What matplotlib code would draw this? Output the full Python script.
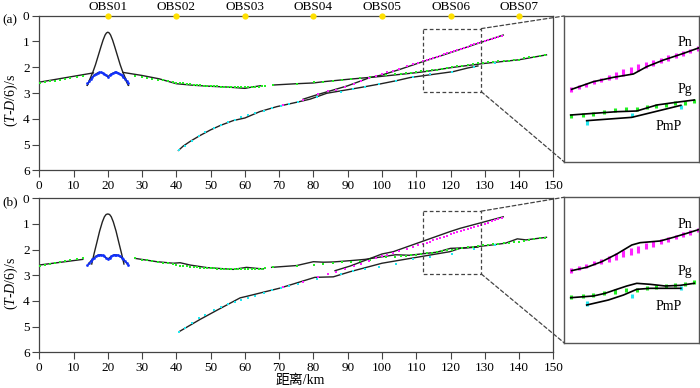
import matplotlib
matplotlib.use("Agg")
import matplotlib.pyplot as plt
from matplotlib.patches import Rectangle, ConnectionPatch

plt.rcParams['font.family'] = ['Liberation Serif', 'Noto Sans CJK SC']
plt.rcParams['mathtext.fontset'] = 'custom'
plt.rcParams['mathtext.rm'] = 'Liberation Serif'
plt.rcParams['mathtext.it'] = 'Liberation Serif:italic'
FS = 9.5

# ---------------- data ----------------
obs_names = ['OBS01', 'OBS02', 'OBS03', 'OBS04', 'OBS05', 'OBS06', 'OBS07']
obs_pos = [20, 40, 60, 80, 100, 120, 140]

# observed Pg (green)
pg_obs_x = [0.2, 1.7, 3.1, 4.6, 6.05, 7.5, 9.0, 10.9, 12.7,
            28, 30, 31.5, 33, 34.5, 36, 37.5, 39, 40, 41, 42, 43, 44, 45, 46, 47, 48, 49, 50,
            51, 52, 53, 54, 55, 56, 57, 58, 59, 60, 61, 62, 63, 64, 65, 66,
            68.3, 75.1, 80.2, 82.9, 85.6, 88.2, 90.9, 93.6, 96.5, 98.4, 101.2, 103.8, 105.7,
            107, 108.5, 110, 111.5, 113, 114.5, 116, 117.5, 119, 120.5, 122, 123.5, 125, 126.5,
            128, 129.5, 131, 132.5, 134, 135.5, 137, 138.5, 140, 141.5, 143, 144.5, 146, 147.5]
pg_obs_t = [2.62, 2.59, 2.55, 2.52, 2.48, 2.45, 2.41, 2.37, 2.33,
            2.34, 2.39, 2.42, 2.45, 2.48, 2.51, 2.54, 2.57, 2.6, 2.62, 2.63, 2.65, 2.66, 2.68, 2.69,
            2.7, 2.71, 2.72, 2.73, 2.73, 2.74, 2.75, 2.75, 2.76, 2.76, 2.77, 2.77, 2.77, 2.77, 2.77,
            2.76, 2.76, 2.75, 2.74, 2.72,
            2.69, 2.65, 2.58, 2.56, 2.52, 2.49, 2.47, 2.43, 2.39, 2.34, 2.3, 2.27, 2.26,
            2.24, 2.21, 2.19, 2.16, 2.14, 2.12, 2.09, 2.06, 2.03, 2.0, 1.97, 1.94, 1.91, 1.88,
            1.85, 1.82, 1.8, 1.78, 1.77, 1.75, 1.74, 1.72, 1.7, 1.66, 1.62, 1.59, 1.56, 1.53]

# observed near-offset water arrivals (blue)
wa_obs_x = [14, 14.5, 15, 15.5, 16, 16.5, 17, 17.5, 18, 18.5, 19, 19.5, 20, 20.5, 21, 21.5,
            22, 22.5, 23, 23.5, 24, 24.5, 25, 25.5, 26]
wa_obs_t = [2.6, 2.52, 2.44, 2.37, 2.31, 2.26, 2.22, 2.2, 2.2, 2.22, 2.26, 2.32, 2.37, 2.32,
            2.26, 2.22, 2.2, 2.2, 2.22, 2.26, 2.31, 2.37, 2.44, 2.52, 2.6]

# observed Pn (magenta)
pn_obs_x = [71.2, 77, 81.4, 84.3, 86.7, 89.2, 91.7, 94, 96.3, 98.4, 100, 101.5, 103.3, 105,
            107.2, 109, 110.5, 112, 113, 114, 115, 116, 117, 118, 119, 120, 121, 122, 123, 124,
            125, 126, 127, 128, 129, 130, 131, 132, 133, 134, 135]
pn_obs_t = [3.46, 3.27, 3.05, 2.94, 2.87, 2.75, 2.65, 2.55, 2.43, 2.33, 2.26, 2.2, 2.13, 2.06,
            1.96, 1.89, 1.83, 1.77, 1.73, 1.69, 1.64, 1.6, 1.55, 1.5, 1.46, 1.41, 1.37, 1.32,
            1.28, 1.24, 1.2, 1.15, 1.11, 1.07, 1.03, 0.99, 0.95, 0.9, 0.86, 0.82, 0.78]

# observed PmP (cyan)
pmp_obs_x = [40.8, 42.5, 44.5, 46.5, 48.5, 51, 53, 55, 57, 59, 61, 63, 65.5, 68, 70.5, 73,
             75.5, 81, 88, 91.5, 95, 99, 104, 109, 114, 120.5, 127, 133]
pmp_obs_t = [5.22, 5.04, 4.86, 4.68, 4.53, 4.37, 4.25, 4.13, 4.03, 3.95, 3.87, 3.79, 3.68,
             3.58, 3.5, 3.42, 3.35, 3.15, 2.95, 2.85, 2.75, 2.66, 2.55, 2.38, 2.28, 2.18, 1.98,
             1.82]

# ---- calculated travel times, model (a) ----
a_pg1_x = [0, 15.8]
a_pg1_t = [2.58, 2.22]
a_bell_x = [14, 14.8, 15.6, 16.4, 17.2, 18, 18.6, 19.2, 19.6, 20, 20.4, 20.8, 21.4, 22,
            22.8, 23.6, 24.4, 25.2, 26]
a_bell_t = [2.7, 2.45, 2.2, 1.9, 1.55, 1.2, 0.95, 0.75, 0.67, 0.64, 0.67, 0.75, 0.95, 1.2,
            1.55, 1.9, 2.2, 2.45, 2.7]
a_wa_x = [14, 15, 16, 17, 18, 19, 20, 21, 22, 23, 24, 25, 26]
a_wa_t = [2.7, 2.45, 2.31, 2.22, 2.2, 2.26, 2.37, 2.26, 2.2, 2.22, 2.31, 2.45, 2.7]
a_pg2_x = [24.4, 30, 35, 40, 45, 50, 55, 60, 62, 64.5]
a_pg2_t = [2.2, 2.32, 2.45, 2.64, 2.7, 2.74, 2.77, 2.82, 2.77, 2.72]
a_pg3_x = [68.3, 75, 80, 83, 90, 99.4, 108, 112, 121, 130, 140, 148]
a_pg3_t = [2.69, 2.64, 2.61, 2.56, 2.47, 2.36, 2.24, 2.18, 2.0, 1.85, 1.71, 1.52]
a_pn_x = [77, 81, 90, 96.5, 100, 105.3, 112, 120.3, 129, 135.4]
a_pn_t = [3.24, 3.07, 2.72, 2.4, 2.3, 2.08, 1.78, 1.42, 1.03, 0.75]
a_pmp_x = [40.6, 42, 44, 46.9, 50, 53, 56.6, 60, 64.4, 69.3, 75.1, 79.0, 83.9, 93.6, 99.4,
           104.3, 108.2, 120.8, 125, 128]
a_pmp_t = [5.23, 5.06, 4.88, 4.65, 4.43, 4.25, 4.07, 3.97, 3.72, 3.53, 3.36, 3.24, 3.01, 2.79,
           2.65, 2.52, 2.4, 2.17, 2.03, 1.95]

# ---- calculated travel times, model (b) ----
b_pg1_x = [0, 12.7]
b_pg1_t = [2.6, 2.38]
b_bell_x = [15.3, 16, 16.8, 17.6, 18.4, 19, 19.5, 20, 20.5, 21, 21.6, 22.4, 23.2, 24, 24.7]
b_bell_t = [2.56, 2.15, 1.72, 1.28, 0.92, 0.72, 0.63, 0.61, 0.63, 0.72, 0.92, 1.28, 1.72,
            2.15, 2.56]
b_wa_x = [14.3, 15, 16, 17, 18, 19, 20, 21, 22, 23, 24, 25, 25.7]
b_wa_t = [2.56, 2.45, 2.31, 2.22, 2.2, 2.26, 2.37, 2.26, 2.2, 2.22, 2.31, 2.45, 2.56]
b_pg2_x = [27.9, 34.3, 39.1, 41.1, 44, 48.9, 56.6, 60.5, 63.4, 65.4]
b_pg2_t = [2.34, 2.47, 2.53, 2.51, 2.6, 2.7, 2.77, 2.69, 2.73, 2.75]
b_pg3_x = [67.8, 75.1, 80, 82.9, 85.8, 90.7, 95, 100, 104, 108, 112, 116, 120, 124, 128, 132,
           136, 139.5, 142, 148]
b_pg3_t = [2.69, 2.62, 2.47, 2.49, 2.48, 2.43, 2.38, 2.28, 2.2, 2.22, 2.16, 2.1, 1.95, 1.93,
           1.88, 1.82, 1.75, 1.58, 1.62, 1.52]
b_pn_x = [86.3, 90.7, 100, 103.3, 119.8, 122.8, 135.4]
b_pn_t = [2.82, 2.64, 2.17, 2.08, 1.3, 1.17, 0.72]
b_pmp_x = [41, 46.9, 52, 58.6, 60.5, 70.2, 80.4, 85.8, 90.7, 100, 119.8, 122.8, 128]
b_pmp_t = [5.18, 4.72, 4.35, 3.88, 3.82, 3.5, 3.08, 3.06, 2.86, 2.53, 2.08, 1.95, 1.9]

# ---- enlarged windows (insets) ----
in_pn_obs_x = [112, 113, 114, 115, 116, 117, 118, 119, 120, 121, 122, 123, 124, 125, 126,
               127, 128, 129]
in_pn_obs_t = [1.76, 1.72, 1.68, 1.63, 1.6, 1.56, 1.52, 1.47, 1.43, 1.39, 1.34, 1.3, 1.26,
               1.22, 1.18, 1.14, 1.1, 1.06]
in_pn_obs_e = [0.04, 0.035, 0.035, 0.04, 0.04, 0.045, 0.06, 0.06, 0.06, 0.06, 0.055, 0.05,
               0.045, 0.045, 0.04, 0.04, 0.04, 0.04]
in_pg_obs_x = [111.9, 113.5, 114.95, 116.4, 117.9, 119.3, 120.8, 122.1, 123.4, 124.7, 125.9,
               127.3, 128.5]
in_pg_obs_t = [2.21, 2.2, 2.18, 2.15, 2.12, 2.1, 2.09, 2.06, 2.04, 2.03, 2.0, 1.99, 1.96]
in_pmp_obs_x = [114.05, 120.1, 126.7]
in_pmp_obs_t = [2.325, 2.2, 2.06]

ia_pn_x = [112.03, 114.95, 117.65, 120.34, 122.14, 124.39, 127.08, 129.5]
ia_pn_t = [1.758, 1.627, 1.552, 1.495, 1.369, 1.255, 1.141, 1.03]
ia_pg_x = [111.9, 114.95, 118.1, 120.79, 123.49, 125.73, 128.52]
ia_pg_t = [2.199, 2.17, 2.142, 2.13, 2.027, 1.987, 1.941]
ia_pmp_x = [114.05, 120.12, 126.72]
ia_pmp_t = [2.296, 2.239, 2.033]

ib_pn_x = [112.03, 114.05, 116.08, 118.1, 120.12, 121.24, 123.94, 125.73, 127.53, 129.5]
ib_pn_t = [1.761, 1.704, 1.607, 1.475, 1.32, 1.28, 1.251, 1.188, 1.119, 1.04]
ib_pg_x = [111.9, 114.95, 116.53, 118.1, 119.45, 120.79, 122.59, 124.61, 126.63, 128.52]
ib_pg_t = [2.226, 2.197, 2.151, 2.082, 2.025, 1.979, 1.996, 2.025, 2.014, 1.979]
ib_pmp_x = [114.05, 116.97, 119.0, 120.79, 122.59, 126.72]
ib_pmp_t = [2.352, 2.266, 2.18, 2.082, 2.065, 2.065]

phase_labels = ['Pn', 'Pg', 'PmP']

# ---------------- style ----------------
GREEN = '#22ee22'
MAG = '#ff22ff'
CYAN = '#22e8f0'
BLUE = '#1030ff'
LINE = '#222222'
SPINE = '#444444'

fig = plt.figure(figsize=(7.0, 3.88), dpi=100)
W, H = 700.0, 388.0


def fx(px):
    return px / W


def fy(py):
    return 1 - py / H


ax_a = fig.add_axes([fx(39.3), fy(170.3), fx(553.3) - fx(39.3), fy(15.7) - fy(170.3)])
ax_b = fig.add_axes([fx(39.3), fy(352.3), fx(553.3) - fx(39.3), fy(198.3) - fy(352.3)])
in_a = fig.add_axes([fx(564), fy(161.7), fx(699.3) - fx(564), fy(16) - fy(161.7)])
in_b = fig.add_axes([fx(564), fy(342.7), fx(699.3) - fx(564), fy(197.3) - fy(342.7)])


def style_main(ax):
    ax.set_xlim(0, 150)
    ax.set_ylim(6, 0)
    ax.set_xticks(range(0, 151, 10))
    ax.set_yticks(range(0, 7))
    ax.tick_params(direction='out', length=5, width=0.8, color=SPINE, labelsize=FS, pad=2)
    for s in ax.spines.values():
        s.set_color(SPINE)
        s.set_linewidth(0.9)


def draw_main(ax, pg1, bell, wa, pg2, pg3, pn, pmp):
    for xs, ts in (pg1, bell, wa, pg2, pg3, pn, pmp):
        ax.plot(xs, ts, color=LINE, lw=1.0, zorder=2)
    ax.plot(pg_obs_x, pg_obs_t, 's', color=GREEN, ms=2.0, mew=0, zorder=3)
    ax.plot(pn_obs_x, pn_obs_t, 's', color=MAG, ms=2.0, mew=0, zorder=3)
    ax.plot(pmp_obs_x, pmp_obs_t, 's', color=CYAN, ms=2.0, mew=0, zorder=3)
    ax.plot(wa_obs_x, wa_obs_t, 'o', color=BLUE, ms=2.0, mew=0, zorder=3)


def draw_inset(ax, pn, pg, pmp):
    ax.set_xlim(111, 129.2)
    ax.set_ylim(3.0, 0.5)
    ax.set_xticks([])
    ax.set_yticks([])
    for s in ax.spines.values():
        s.set_color('#555555')
        s.set_linewidth(1.0)
    for xs, ts in (pn, pg, pmp):
        ax.plot(xs, ts, color='black', lw=1.2, zorder=3)
    ax.errorbar(in_pn_obs_x, in_pn_obs_t, yerr=in_pn_obs_e, fmt='none', ecolor=MAG,
                elinewidth=2.2, capsize=0, zorder=2)
    ax.errorbar(in_pg_obs_x, in_pg_obs_t, yerr=0.035, fmt='none', ecolor=GREEN,
                elinewidth=2.2, capsize=0, zorder=2)
    ax.errorbar(in_pmp_obs_x, in_pmp_obs_t, yerr=0.04, fmt='none', ecolor=CYAN,
                elinewidth=2.2, capsize=0, zorder=2)


style_main(ax_a)
style_main(ax_b)
draw_main(ax_a, (a_pg1_x, a_pg1_t), (a_bell_x, a_bell_t), (a_wa_x, a_wa_t),
          (a_pg2_x, a_pg2_t), (a_pg3_x, a_pg3_t), (a_pn_x, a_pn_t), (a_pmp_x, a_pmp_t))
draw_main(ax_b, (b_pg1_x, b_pg1_t), (b_bell_x, b_bell_t), (b_wa_x, b_wa_t),
          (b_pg2_x, b_pg2_t), (b_pg3_x, b_pg3_t), (b_pn_x, b_pn_t), (b_pmp_x, b_pmp_t))

draw_inset(in_a, (ia_pn_x, ia_pn_t), (ia_pg_x, ia_pg_t), (ia_pmp_x, ia_pmp_t))
draw_inset(in_b, (ib_pn_x, ib_pn_t), (ib_pg_x, ib_pg_t), (ib_pmp_x, ib_pmp_t))
for ax, lab_pos in ((in_a, [(127.3, 0.95), (127.3, 1.76), (125.1, 2.4)]),
                    (in_b, [(127.3, 0.97), (127.3, 1.78), (125.1, 2.38)])):
    for lab, (lx, ly) in zip(phase_labels, lab_pos):
        ax.text(lx, ly, lab, fontsize=FS + 0.5, ha='center', va='center')

# OBS stations
ax_a.plot(obs_pos, [0] * len(obs_pos), 'o', color='#ffe000', ms=4.5, mew=0,
          clip_on=False, zorder=5)
for name, p in zip(obs_names, obs_pos):
    ax_a.annotate(name, (p, 0), xytext=(0, 6.5), textcoords='offset points',
                  ha='center', va='center', fontsize=FS)

# zoom rectangles and connectors
for ax, inset in ((ax_a, in_a), (ax_b, in_b)):
    ax.add_patch(Rectangle((112, 0.5), 17, 2.45, fill=False, ls=(0, (3, 2)),
                           ec='#444444', lw=0.9, zorder=4))
    for ty, iy in ((0.5, 1), (2.95, 0)):
        cp = ConnectionPatch(xyA=(129, ty), coordsA=ax.transData, xyB=(0, iy),
                             coordsB=inset.transAxes, ls=(0, (3, 2)), color='#444444', lw=0.9)
        fig.add_artist(cp)

# labels
ylab = '($\\it{T}$-$\\it{D}$/6)/s'
fig.text(fx(11), fy(100), ylab, rotation=90, ha='center', va='center', fontsize=FS + 0.5)
fig.text(fx(11), fy(283), ylab, rotation=90, ha='center', va='center', fontsize=FS + 0.5)
fig.text(fx(2), fy(20.5), '(a)', ha='left', va='center', fontsize=FS)
fig.text(fx(2), fy(202.5), '(b)', ha='left', va='center', fontsize=FS)
fig.text(fx(300), fy(380), '距离/km', ha='center', va='center', fontsize=FS + 0.5)

fig.savefig('out.png', dpi=100)
